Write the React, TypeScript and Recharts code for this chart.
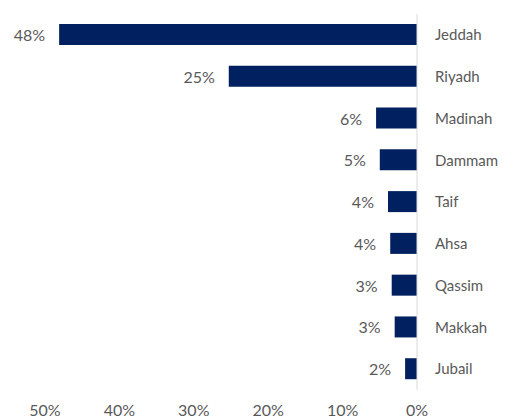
import { BarChart, Bar, XAxis, YAxis, LabelList } from 'recharts'

const cities = ['Jeddah', 'Riyadh', 'Madinah', 'Dammam', 'Taif', 'Ahsa', 'Qassim', 'Makkah', 'Jubail']
const shares = [0.481, 0.253, 0.055, 0.05, 0.039, 0.036, 0.034, 0.03, 0.016]
const xTicks = [0, 0.1, 0.2, 0.3, 0.4, 0.5]

const data = cities.map((city, i) => ({ city, share: shares[i] }))

const FONT = 'Lato, "Open Sans", sans-serif'
const TEXT = '#595959'

const pct = (v: number) => `${Math.round(v * 100)}%`

// bar goes leftwards (reversed axis), so place label left of whichever end is smaller
const BarLabel = (props: any) => {
  const { x, y, width, height, value } = props
  const left = Math.min(Number(x), Number(x) + Number(width))
  return (
    <text
      x={left - 14}
      y={Number(y) + Number(height) / 2}
      textAnchor="end"
      dominantBaseline="central"
      fill={TEXT}
      fontSize={16}
      fontFamily={FONT}
    >
      {pct(value)}
    </text>
  )
}

export default function App() {
  return (
    <div>
      <style>{'html, body { overflow: hidden; }'}</style>
      <BarChart
        width={500}
        height={412}
        data={data}
        layout="vertical"
        margin={{ top: 6, right: 0, left: 37, bottom: 0 }}
      >
        <XAxis
          type="number"
          domain={[0, 0.5]}
          ticks={xTicks}
          reversed
          tickFormatter={pct}
          axisLine={false}
          tickLine={false}
          tickMargin={9}
          height={30}
          tick={{ fontSize: 16, fill: TEXT, fontFamily: FONT }}
        />
        <YAxis
          type="category"
          dataKey="city"
          orientation="right"
          width={91}
          axisLine={{ stroke: '#d9d9d9' }}
          tickLine={false}
          tickMargin={12}
          tick={{ fontSize: 15, fill: TEXT, fontFamily: FONT, textAnchor: 'start' }}
        />
        <Bar dataKey="share" fill="#002060" barSize={21} isAnimationActive={false}>
          <LabelList dataKey="share" content={<BarLabel />} />
        </Bar>
      </BarChart>
    </div>
  )
}
